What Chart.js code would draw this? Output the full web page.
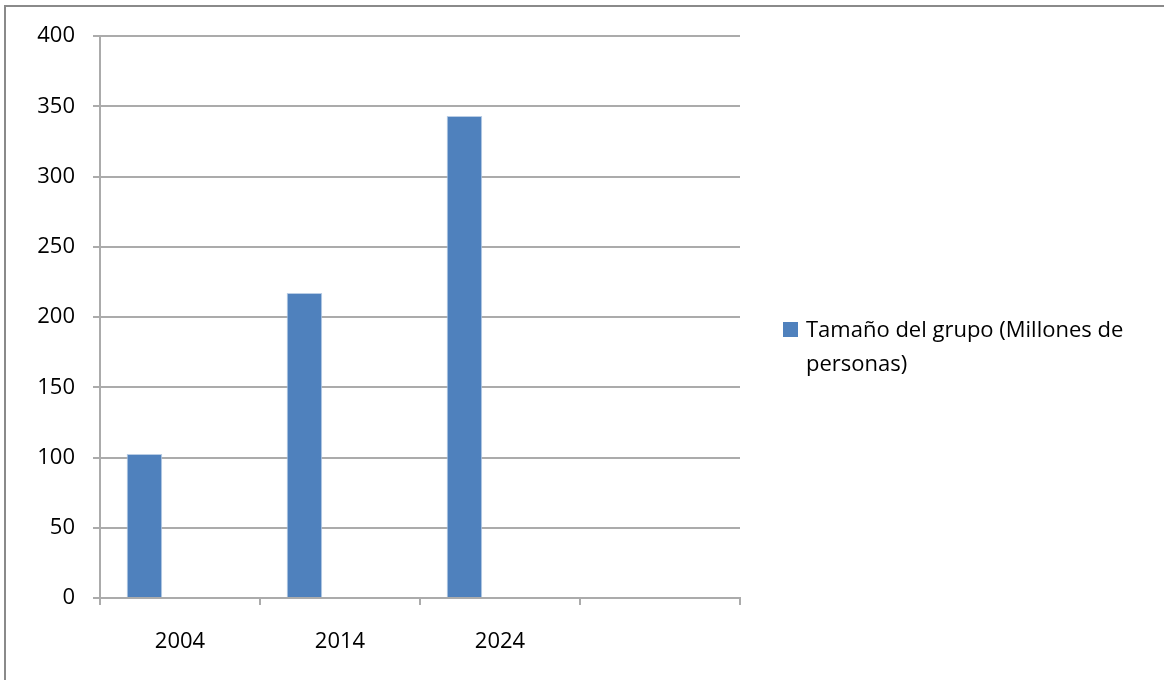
<!DOCTYPE html>
<html>
<head>
<meta charset="utf-8">
<script src="https://cdn.jsdelivr.net/npm/chart.js@4/dist/chart.umd.min.js"></script>
<style>
    body { margin: 0; background: #fff; }
    #wrap { position: relative; width: 1164px; height: 680px; overflow: hidden; }
    #frame { position: absolute; left: 4px; top: 5px; width: 1200px; height: 720px;
             border-left: 2px solid #8a8a8a; border-top: 2px solid #8a8a8a; }
    #chart_1 { position: absolute; left: 0; top: 0; }
    #legend { position: absolute; left: 783px; top: 311px; width: 375px;
              font-family: "Open Sans", Lato, sans-serif; font-size: 22px; line-height: 34px; color: #000; }
    #legend .box { position: absolute; left: 0; top: 11px; width: 15px; height: 15px; background: #4f81bd; }
    #legend .txt { margin-left: 23px; }
</style>
</head>
<body>
<div id="wrap">
    <div id="frame"></div>
    <canvas id="chart_1" width="1164" height="680"></canvas>
    <div id="legend"><span class="box"></span><div class="txt" id="legend_text"></div></div>
</div>
<script>
const labels = ["2004", "2014", "2024", ""]
const group_size = [102.5, 217, 343, null]
const series_label = "Tamaño del grupo (Millones de personas)"
const y_ticks = [0, 50, 100, 150, 200, 250, 300, 350, 400]

document.getElementById("legend_text").textContent = series_label

const axis_font = { family: "'Open Sans', Lato, sans-serif", size: 22 }
const grid_color = "#ababab"

const data_1 = {
    labels,
    datasets: [
        {
            data: group_size,
            label: series_label,
            backgroundColor: "#4f81bd",
            borderColor: "#b9cde5",
            borderWidth: 1
        },
        // empty series, they only take up room like in the original
        { data: [null, null, null, null], label: "" },
        { data: [null, null, null, null], label: "" }
    ]
}

const config_1 = {
    type: "bar",
    data: data_1,
    options: {
        responsive: false,
        animation: false,
        barPercentage: 1,
        categoryPercentage: 3 / 4.5,
        layout: { padding: { left: 0, right: 424, top: 36, bottom: 0 } },
        plugins: {
            legend: { display: false },
            tooltip: { enabled: false }
        },
        scales: {
            x: {
                grid: {
                    display: true,
                    offset: true,
                    drawOnChartArea: false,
                    drawTicks: true,
                    tickLength: 7,
                    color: grid_color,
                    lineWidth: 2
                },
                border: { display: true, color: grid_color, width: 2 },
                ticks: { color: "#000", font: axis_font, padding: 24, maxRotation: 0 },
                afterFit: (scale) => { scale.height = 82 }
            },
            y: {
                min: 0,
                max: 400,
                afterBuildTicks: (scale) => { scale.ticks = y_ticks.map(v => ({ value: v })) },
                grid: {
                    color: grid_color,
                    lineWidth: 2,
                    tickLength: 7
                },
                border: { display: true, color: grid_color, width: 2 },
                ticks: { color: "#000", font: axis_font, padding: 18 },
                afterFit: (scale) => { scale.width = 100 }
            }
        }
    }
}

const chart_1 = new Chart(document.getElementById("chart_1").getContext("2d"), config_1)
</script>
</body>
</html>
